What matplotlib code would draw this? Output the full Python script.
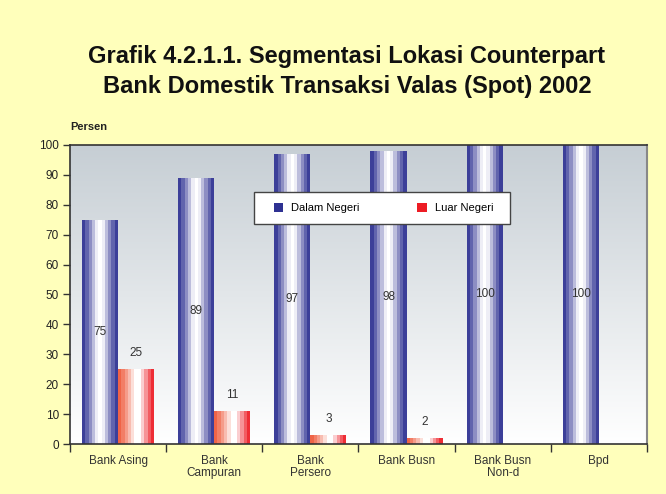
import numpy as np
import matplotlib.pyplot as plt
from matplotlib.colors import to_rgb
from matplotlib.patches import Patch, Rectangle

categories = ['Bank Asing', 'Bank\nCampuran', 'Bank\nPersero', 'Bank Busn', 'Bank Busn\nNon-d', 'Bpd']
dalam_negeri = [75, 89, 97, 98, 100, 100]
luar_negeri = [25, 11, 3, 2, 0, 0]
yticks = list(range(0, 101, 10))

plt.rcParams['font.family'] = ['Liberation Sans', 'DejaVu Sans']

fig = plt.figure(figsize=(6.66, 4.94), dpi=100, facecolor='#FFFFBB')
ax = fig.add_axes([0.105, 0.1012, 0.8665, 0.6053])
ax.set_xlim(-0.5, len(categories) - 0.5)
ax.set_ylim(0, 100)

# latar gradasi
grad = np.linspace(0, 1, 256).reshape(-1, 1)
top, bot = np.array(to_rgb('#C6CED4')), np.array(to_rgb('#FFFFFF'))
img = bot[None, None, :] * (1 - grad[:, :, None]) + top[None, None, :] * grad[:, :, None]
ax.imshow(img, extent=[-0.5, len(categories) - 0.5, 0, 100], origin='lower',
          aspect='auto', zorder=0)


def stripe_colors(edge_l, edge_r, n=11, center=0.5):
    cl, cr, w = np.array(to_rgb(edge_l)), np.array(to_rgb(edge_r)), np.ones(3)
    cols = []
    for k in range(n):
        p = (k + 0.5) / n
        if p < center:
            m = min(1, (p / (center - 0.06)) ** 1.2)
            cols.append(cl * (1 - m) + w * m)
        else:
            m = min(1, ((1 - p) / (1 - center - 0.06)) ** 1.2)
            cols.append(cr * (1 - m) + w * m)
    return cols


width = 0.375
n = 11
blue_cols = stripe_colors('#2E3192', '#2E3192', n, 0.5)
red_cols = stripe_colors('#EE5A3C', '#ED1C24', n, 0.55)
x = np.arange(len(categories))
for j, c in enumerate(blue_cols):
    off = -width + (j + 0.5) * width / n
    ax.bar(x + off, dalam_negeri, width / n, color=c, zorder=2, linewidth=0)
for j, c in enumerate(red_cols):
    off = (j + 0.5) * width / n
    ax.bar(x + off, luar_negeri, width / n, color=c, zorder=2, linewidth=0)

for i in range(len(categories)):
    ax.text(x[i] - width / 2, dalam_negeri[i] / 2, str(dalam_negeri[i]), ha='center', va='center',
            fontsize=8.5, color='#333333', zorder=3)
    if luar_negeri[i] > 0:
        ax.text(x[i] + width / 2, luar_negeri[i] + 5.5, str(luar_negeri[i]), ha='center', va='center',
                fontsize=8.5, color='#333333', zorder=3)

ax.set_yticks(yticks)
ax.tick_params(axis='y', labelsize=8.5, labelcolor='#222222', length=5, width=1, color='#333333', pad=3)
ax.set_xticks(x)
ax.set_xticklabels(categories, fontsize=8.5, color='#333333', linespacing=1.0)
ax.tick_params(axis='x', length=0, pad=8)
ax.set_xticks(np.arange(-0.5, len(categories)), minor=True)
ax.tick_params(axis='x', which='minor', length=6, width=1, color='#333333', direction='out')

for s in ['left', 'top', 'bottom']:
    ax.spines[s].set_color('#333333')
    ax.spines[s].set_linewidth(1.2)
ax.spines['right'].set_color('#888888')
ax.spines['right'].set_linewidth(1.5)

# kotak legenda
ax.add_patch(Rectangle((0.3189, 0.7358), 0.4437, 0.107, transform=ax.transAxes,
                       facecolor='white', edgecolor='#444444', linewidth=1.0, zorder=4))
handles = [Patch(facecolor='#2E3192', label='Dalam Negeri'),
           Patch(facecolor='#ED1C24', label='Luar Negeri')]
leg = ax.legend(handles=handles, ncol=2, loc='center left', bbox_to_anchor=(0.3536, 0.789),
                fontsize=8, frameon=False, handlelength=0.85, handleheight=0.85,
                columnspacing=5.2, borderpad=0, handletextpad=0.7, borderaxespad=0)
leg.set_zorder(5)

fig.text(0.521, 0.856, 'Grafik 4.2.1.1. Segmentasi Lokasi Counterpart\nBank Domestik Transaksi Valas (Spot) 2002',
         ha='center', va='center', fontsize=17, fontweight='bold', color='#111111', linespacing=1.4)
fig.text(0.105, 0.743, 'Persen', ha='left', va='center', fontsize=8, fontweight='bold', color='#222222')

fig.savefig('out.png', dpi=100, facecolor=fig.get_facecolor())
